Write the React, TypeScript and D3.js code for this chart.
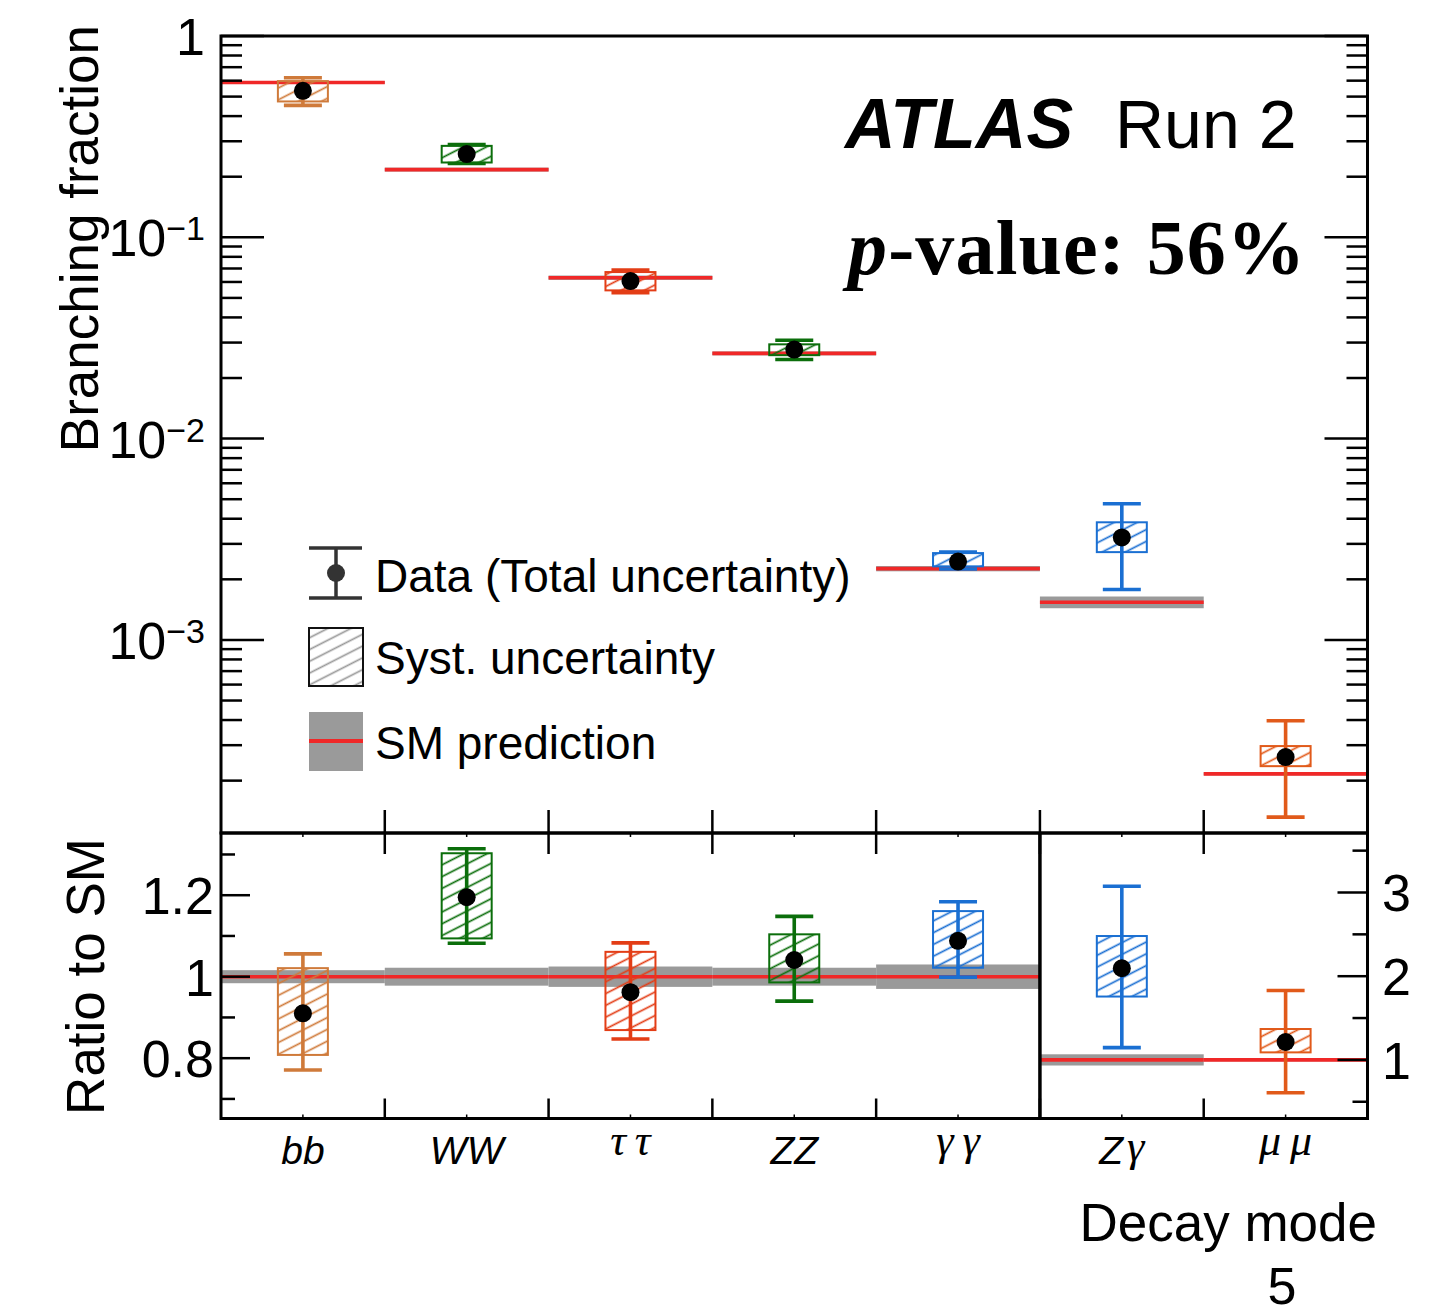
import React from 'react';
import * as d3 from 'd3';

// ---------------- data ----------------
const categories = ['bb', 'WW', 'ττ', 'ZZ', 'γγ', 'Zγ', 'μμ'];
const catColors = ['#cf7a3a', '#0b6e0b', '#e33d16', '#0b6e0b', '#1a6fd2', '#1a6fd2', '#e15a1a'];
// x-label parts: [text, isGreek]
const xLabelParts: [string, boolean][][] = [
  [['bb', false]],
  [['WW', false]],
  [['ττ', true]],
  [['ZZ', false]],
  [['γγ', true]],
  [['Z', false], ['γ', true]],
  [['μμ', true]],
];

// Top panel: branching fractions
const bfData = [0.534, 0.259, 0.0606, 0.0277, 0.00245, 0.00323, 0.000262];
const bfSystUp = [0.597, 0.2846, 0.0672, 0.0294, 0.0027, 0.00384, 0.000297];
const bfSystDown = [0.473, 0.2353, 0.0545, 0.02597, 0.00232, 0.00273, 0.000236];
const bfTotUp = [0.62, 0.289, 0.0688, 0.0308, 0.00273, 0.00475, 0.000397];
const bfTotDown = [0.452, 0.2326, 0.0531, 0.0247, 0.00225, 0.00178, 0.0001317];
const bfSM = [0.588, 0.217, 0.063, 0.0265, 0.00226, 0.00154, 0.000216];
const smRelUnc = [0.016, 0.022, 0.025, 0.022, 0.03, 0.067, 0.017];

// Ratio panel
const ratioData = [0.91, 1.195, 0.962, 1.041, 1.088, 2.095, 1.214];
const ratioSystUp = [1.021, 1.303, 1.061, 1.104, 1.161, 2.48, 1.369];
const ratioSystDown = [0.808, 1.094, 0.869, 0.986, 1.022, 1.757, 1.09];
const ratioTotUp = [1.056, 1.314, 1.083, 1.148, 1.184, 3.075, 1.83];
const ratioTotDown = [0.771, 1.082, 0.847, 0.94, 0.999, 1.147, 0.607];
const rightAxisCats = ['Zγ', 'μμ'];

const leftRatioMajor = [0.8, 1.0, 1.2];
const leftRatioMajorLabels = ['0.8', '1', '1.2'];
const leftRatioMinor = [0.7, 0.9, 1.1, 1.3];
const rightRatioMajor = [1, 2, 3];
const rightRatioMajorLabels = ['1', '2', '3'];
const rightRatioMinor = [0.5, 1.5, 2.5, 3.5];
const topMajorExps = [0, -1, -2, -3];

const SANS = "'Liberation Sans', Arial, Helvetica, sans-serif";
const SERIF = "'Liberation Serif', 'Times New Roman', serif";

export default function App() {
  const L = 221, R = 1367.5;
  const topY0 = 36, topY1 = 833;
  const ratY0 = 833, ratY1 = 1118.5;

  const x = d3.scaleBand<string>().domain(categories).range([L, R]).padding(0);
  const bw = x.bandwidth();
  const cx = (i: number) => (x(categories[i]) as number) + bw / 2;
  const x0 = (i: number) => x(categories[i]) as number;

  const yTop = d3.scaleLog().domain([1.1e-4, 1]).range([832.9, 36]);
  const yL = d3.scaleLinear().domain([0.65, 1.35]).range([1119.3, 834.1]);
  const yR = d3.scaleLinear().domain([0.3, 3.7]).range([1118.5, 833.9]);
  const yRat = (i: number) => (rightAxisCats.includes(categories[i]) ? yR : yL);

  // log ticks
  const logTicks: { v: number; major: boolean }[] = [];
  for (let d = -4; d <= 0; d++) {
    for (let k = 1; k <= 9; k++) {
      const v = k * Math.pow(10, d);
      if (v >= 1.1e-4 && v <= 1.0000001) logTicks.push({ v, major: k === 1 });
    }
  }

  const capHalf = 19;
  const boxHalf = 25;
  const ebW = 3.6;

  const renderMarks = (
    i: number,
    ys: (v: number) => number,
    sUp: number, sDn: number, tUp: number, tDn: number, val: number
  ) => {
    const c = catColors[i];
    const X = cx(i);
    return (
      <g key={'m' + i}>
        <rect x={X - boxHalf} y={ys(sUp)} width={boxHalf * 2} height={ys(sDn) - ys(sUp)}
          fill={`url(#hatch${i})`} stroke={c} strokeWidth={2} />
        <line x1={X} x2={X} y1={ys(tUp)} y2={ys(tDn)} stroke={c} strokeWidth={ebW} />
        <line x1={X - capHalf} x2={X + capHalf} y1={ys(tUp)} y2={ys(tUp)} stroke={c} strokeWidth={ebW} />
        <line x1={X - capHalf} x2={X + capHalf} y1={ys(tDn)} y2={ys(tDn)} stroke={c} strokeWidth={ebW} />
        <circle cx={X} cy={ys(val)} r={9} fill="#000" />
      </g>
    );
  };

  const red = '#f02828';
  const gray = '#9a9a9a';

  return (
    <svg width={1450} height={1307} style={{ position: 'absolute', left: 0, top: 0, display: 'block' }}
      xmlns="http://www.w3.org/2000/svg">
      <defs>
        {catColors.map((c, i) => (
          <pattern key={i} id={`hatch${i}`} patternUnits="userSpaceOnUse" width={11} height={10.5}
            patternTransform="rotate(-27)">
            <line x1={0} x2={11} y1={5.25} y2={5.25} stroke={c} strokeWidth={1.7} />
          </pattern>
        ))}
        <pattern id="hatchLeg" patternUnits="userSpaceOnUse" width={11} height={10.5} patternTransform="rotate(-27)">
          <line x1={0} x2={11} y1={5.25} y2={5.25} stroke="#999" strokeWidth={1.7} />
        </pattern>
        <clipPath id="clipTop"><rect x={L} y={topY0} width={R - L} height={topY1 - topY0} /></clipPath>
        <clipPath id="clipRat"><rect x={L} y={ratY0} width={R - L} height={ratY1 - ratY0} /></clipPath>
      </defs>
      <rect x={0} y={0} width={1450} height={1307} fill="#fff" />

      {/* ---------- TOP PANEL ---------- */}
      <g clipPath="url(#clipTop)">
        {categories.map((_, i) => (
          <rect key={'b' + i} x={x0(i)} width={bw} y={yTop(bfSM[i] * (1 + smRelUnc[i]))}
            height={yTop(bfSM[i] * (1 - smRelUnc[i])) - yTop(bfSM[i] * (1 + smRelUnc[i]))} fill={gray} />
        ))}
        {categories.map((_, i) => (
          <line key={'s' + i} x1={x0(i)} x2={x0(i) + bw} y1={yTop(bfSM[i])} y2={yTop(bfSM[i])} stroke={red} strokeWidth={3.6} />
        ))}
        {categories.map((_, i) => renderMarks(i, yTop, bfSystUp[i], bfSystDown[i], bfTotUp[i], bfTotDown[i], bfData[i]))}
      </g>

      {/* top panel ticks */}
      {logTicks.map((t, k) => {
        const y = yTop(t.v);
        const len = t.major ? 43 : 21;
        return (
          <g key={'lt' + k}>
            <line x1={L} x2={L + len} y1={y} y2={y} stroke="#000" strokeWidth={2.5} />
            <line x1={R - len} x2={R} y1={y} y2={y} stroke="#000" strokeWidth={2.5} />
          </g>
        );
      })}
      {categories.slice(1).map((c, i) => (
        <line key={'tb' + i} x1={x(c)} x2={x(c)} y1={topY1} y2={topY1 - 23} stroke="#000" strokeWidth={2.5} />
      ))}
      <rect x={L} y={topY0} width={R - L} height={topY1 - topY0} fill="none" stroke="#000" strokeWidth={3} />

      {/* top y labels */}
      {topMajorExps.map((e) => {
        const y = yTop(Math.pow(10, e));
        if (e === 0) {
          return <text key={'tl' + e} x={205} y={y + 19} fontFamily={SANS} fontSize={52} textAnchor="end">1</text>;
        }
        return (
          <text key={'tl' + e} x={205} y={y + 19} fontFamily={SANS} fontSize={52} textAnchor="end">
            10<tspan fontSize={34} dy={-16}>{'\u2212' + Math.abs(e)}</tspan>
          </text>
        );
      })}
      <text transform={`translate(98,25) rotate(-90)`} fontFamily={SANS} fontSize={53} textAnchor="end">Branching fraction</text>

      {/* ATLAS label */}
      <text x={845} y={148} fontFamily={SANS} fontSize={70} fontWeight="bold" fontStyle="italic">ATLAS</text>
      <text x={1115} y={148} fontFamily={SANS} fontSize={68}>Run 2</text>
      <text x={848} y={274} fontFamily={SERIF} fontSize={78} fontWeight="bold" textLength={457} lengthAdjust="spacing">
        <tspan fontStyle="italic">p</tspan>-value: 56%
      </text>

      {/* legend */}
      <g>
        <line x1={336} x2={336} y1={548} y2={598} stroke="#333" strokeWidth={3.5} />
        <line x1={309} x2={362} y1={548} y2={548} stroke="#333" strokeWidth={3.5} />
        <line x1={309} x2={362} y1={598} y2={598} stroke="#333" strokeWidth={3.5} />
        <circle cx={336} cy={573} r={9} fill="#333" />
        <text x={375} y={592} fontFamily={SANS} fontSize={46}>Data (Total uncertainty)</text>

        <rect x={309} y={628} width={54} height={58} fill="url(#hatchLeg)" stroke="#111" strokeWidth={2} />
        <text x={375} y={674} fontFamily={SANS} fontSize={46}>Syst. uncertainty</text>

        <rect x={309} y={712} width={54} height={59} fill={gray} />
        <line x1={309} x2={363} y1={741} y2={741} stroke={red} strokeWidth={4} />
        <text x={375} y={759} fontFamily={SANS} fontSize={46}>SM prediction</text>
      </g>

      {/* ---------- RATIO PANEL ---------- */}
      <g clipPath="url(#clipRat)">
        {categories.map((_, i) => {
          const ys = yRat(i);
          return (
            <rect key={'rb' + i} x={x0(i)} width={bw} y={ys(1 + smRelUnc[i])}
              height={ys(1 - smRelUnc[i]) - ys(1 + smRelUnc[i])} fill={gray} />
          );
        })}
        {categories.map((_, i) => {
          const ys = yRat(i);
          return <line key={'rs' + i} x1={x0(i)} x2={x0(i) + bw} y1={ys(1)} y2={ys(1)} stroke={red} strokeWidth={3.6} />;
        })}
        {categories.map((_, i) =>
          renderMarks(i, yRat(i), ratioSystUp[i], ratioSystDown[i], ratioTotUp[i], ratioTotDown[i], ratioData[i]))}
      </g>

      {/* ratio ticks */}
      {leftRatioMajor.map((v, k) => (
        <line key={'lrm' + k} x1={L} x2={L + 29} y1={yL(v)} y2={yL(v)} stroke="#000" strokeWidth={2.5} />
      ))}
      {leftRatioMinor.map((v, k) => (
        <line key={'lrn' + k} x1={L} x2={L + 14} y1={yL(v)} y2={yL(v)} stroke="#000" strokeWidth={2.5} />
      ))}
      {rightRatioMajor.map((v, k) => (
        <line key={'rrm' + k} x1={R - 30} x2={R} y1={yR(v)} y2={yR(v)} stroke="#000" strokeWidth={2.5} />
      ))}
      {rightRatioMinor.map((v, k) => (
        <line key={'rrn' + k} x1={R - 15} x2={R} y1={yR(v)} y2={yR(v)} stroke="#000" strokeWidth={2.5} />
      ))}
      {categories.slice(1).map((c, i) => (
        <g key={'rtb' + i}>
          <line x1={x(c)} x2={x(c)} y1={ratY0} y2={ratY0 + 21} stroke="#000" strokeWidth={2.5} />
          <line x1={x(c)} x2={x(c)} y1={ratY1} y2={ratY1 - 20} stroke="#000" strokeWidth={2.5} />
        </g>
      ))}
      {categories.map((_, i) => (
        <g key={'rtc' + i}>
          <line x1={cx(i)} x2={cx(i)} y1={ratY1} y2={ratY1 - 4} stroke="#000" strokeWidth={1.5} />
          <line x1={cx(i)} x2={cx(i)} y1={ratY0} y2={ratY0 + 4} stroke="#000" strokeWidth={1.5} />
        </g>
      ))}
      <line x1={x('Zγ')} x2={x('Zγ')} y1={ratY0} y2={ratY1} stroke="#000" strokeWidth={3.5} />
      <rect x={L} y={ratY0} width={R - L} height={ratY1 - ratY0} fill="none" stroke="#000" strokeWidth={3} />

      {/* ratio labels */}
      {leftRatioMajor.map((v, k) => (
        <text key={'lrl' + k} x={214} y={yL(v) + 19} fontFamily={SANS} fontSize={52} textAnchor="end">{leftRatioMajorLabels[k]}</text>
      ))}
      {rightRatioMajor.map((v, k) => (
        <text key={'rrl' + k} x={1382} y={yR(v) + 19} fontFamily={SANS} fontSize={52}>{rightRatioMajorLabels[k]}</text>
      ))}
      <text transform={`translate(104,838) rotate(-90)`} fontFamily={SANS} fontSize={53} textAnchor="end">Ratio to SM</text>

      {/* x labels */}
      {xLabelParts.map((parts, i) => (
        <text key={'xl' + i} x={cx(i)} y={1164} textAnchor="middle" fontSize={39} fontStyle="italic">
          {parts.map((p, j) => (
            <tspan key={j} fontFamily={p[1] ? SERIF : SANS} fontSize={p[1] ? 44 : 39}
              dx={p[1] && j > 0 ? 4 : 0}
              dy={p[1] ? (parts.length > 1 ? -3 : -9) : 0}>{p[1] ? p[0].split('').join('\u2009') : p[0]}</tspan>
          ))}
        </text>
      ))}
      <text x={1377} y={1241} fontFamily={SANS} fontSize={53} textAnchor="end">Decay mode</text>
      <text x={1282} y={1304} fontFamily={SANS} fontSize={52} textAnchor="middle">5</text>
    </svg>
  );
}
